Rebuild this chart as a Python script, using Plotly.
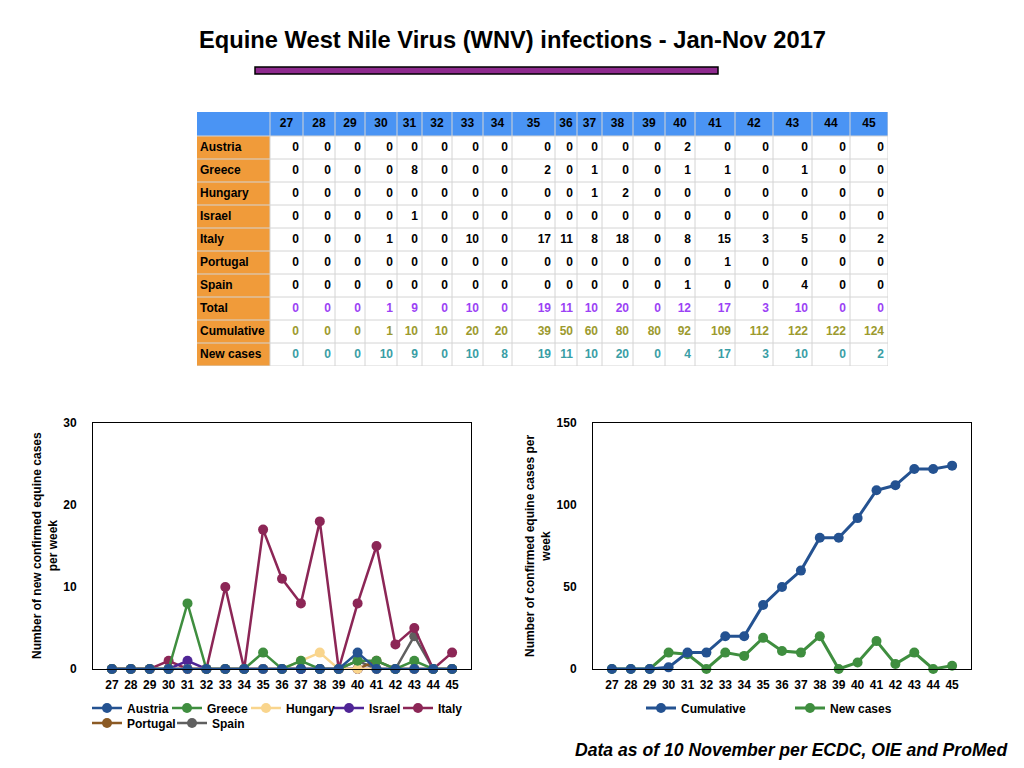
import plotly.graph_objects as go

# weekly equine WNV cases, weeks 27-45 of 2017
weeks = list(range(27, 46))
austria = [0, 0, 0, 0, 0, 0, 0, 0, 0, 0, 0, 0, 0, 2, 0, 0, 0, 0, 0]
greece = [0, 0, 0, 0, 8, 0, 0, 0, 2, 0, 1, 0, 0, 1, 1, 0, 1, 0, 0]
hungary = [0, 0, 0, 0, 0, 0, 0, 0, 0, 0, 1, 2, 0, 0, 0, 0, 0, 0, 0]
israel = [0, 0, 0, 0, 1, 0, 0, 0, 0, 0, 0, 0, 0, 0, 0, 0, 0, 0, 0]
italy = [0, 0, 0, 1, 0, 0, 10, 0, 17, 11, 8, 18, 0, 8, 15, 3, 5, 0, 2]
portugal = [0, 0, 0, 0, 0, 0, 0, 0, 0, 0, 0, 0, 0, 0, 1, 0, 0, 0, 0]
spain = [0, 0, 0, 0, 0, 0, 0, 0, 0, 0, 0, 0, 0, 1, 0, 0, 4, 0, 0]
total = [0, 0, 0, 1, 9, 0, 10, 0, 19, 11, 10, 20, 0, 12, 17, 3, 10, 0, 0]
cumulative = [0, 0, 0, 1, 10, 10, 20, 20, 39, 50, 60, 80, 80, 92, 109, 112, 122, 122, 124]
new_cases = [0, 0, 0, 10, 9, 0, 10, 8, 19, 11, 10, 20, 0, 4, 17, 3, 10, 0, 2]

countries = ["Austria", "Greece", "Hungary", "Israel", "Italy", "Portugal", "Spain"]
country_vals = [austria, greece, hungary, israel, italy, portugal, spain]
country_cols = ["#245291", "#3f8e3f", "#f9d58d", "#4f2596", "#8c2656", "#8b5a24", "#5f5f5f"]
row_labels = countries + ["Total", "Cumulative", "New cases"]
row_vals = country_vals + [total, cumulative, new_cases]
row_cols = ["black"] * 7 + ["#9b42f5", "#9c9a2e", "#3a9ea5"]

W, H = 1024, 768
FONT = "Liberation Sans, Arial, Helvetica, sans-serif"


def px(x):
    return x / W


def py(y):
    return 1 - y / H


fig = go.Figure()

# ---- table, drawn as a heatmap (cell fills) + text on its own axes ----
colw = [73, 33, 32, 30, 32, 25, 30, 31, 29, 43, 22, 25, 31, 32, 30, 40, 38, 39, 38, 38]
head_h, row_h = 24, 23
xedges = [0]
for w in colw:
    xedges.append(xedges[-1] + w)
yedges = [0, head_h] + [head_h + row_h * (i + 1) for i in range(len(row_labels))]
xmid = [(xedges[i] + xedges[i + 1]) / 2 for i in range(len(colw))]
ymid = [(yedges[i] + yedges[i + 1]) / 2 for i in range(len(yedges) - 1)]

# 2 = header blue, 1 = label orange, 0 = white
zfill = [[2] * len(colw)] + [[1] + [0] * len(weeks) for _ in row_labels]
fig.add_trace(go.Heatmap(
    x=xedges, y=yedges, z=zfill, zmin=0, zmax=2, showscale=False, hoverinfo="skip",
    colorscale=[[0, "white"], [0.5, "#f09b3a"], [1, "#4a94f4"]],
    xaxis="x3", yaxis="y3"))

fig.add_trace(go.Scatter(
    x=xmid[1:], y=[ymid[0]] * len(weeks), text=["<b>%d</b>" % w for w in weeks],
    mode="text", textposition="middle center", showlegend=False, hoverinfo="skip",
    textfont=dict(family=FONT, size=12, color="black"), xaxis="x3", yaxis="y3"))
fig.add_trace(go.Scatter(
    x=[xedges[0] + 3] * len(row_labels), y=ymid[1:], text=["<b>%s</b>" % r for r in row_labels],
    mode="text", textposition="middle right", showlegend=False, hoverinfo="skip",
    textfont=dict(family=FONT, size=12, color="black"), xaxis="x3", yaxis="y3"))

tx, ty, tt, tc = [], [], [], []
for r, vals in enumerate(row_vals):
    for c, v in enumerate(vals):
        tx.append(xedges[c + 2] - 4)
        ty.append(ymid[r + 1])
        tt.append("<b>%d</b>" % v)
        tc.append(row_cols[r])
fig.add_trace(go.Scatter(
    x=tx, y=ty, text=tt, mode="text", textposition="middle left", showlegend=False,
    hoverinfo="skip", textfont=dict(family=FONT, size=12, color=tc), xaxis="x3", yaxis="y3"))

# cell borders
grid = dict(color="#d4d4d4", width=1)
for xe in xedges[1:]:
    fig.add_shape(type="line", xref="x3", yref="y3", x0=xe, x1=xe, y0=0, y1=yedges[-1],
                  line=grid, layer="above")
for ye in yedges[1:]:
    fig.add_shape(type="line", xref="x3", yref="y3", x0=0, x1=xedges[-1], y0=ye, y1=ye,
                  line=grid, layer="above")

# ---- left chart: weekly cases per country ----
# legend marker centres (px) - one small legend per country so they line up like the original
leg_pos = {"Austria": (107, 708), "Greece": (187, 708), "Hungary": (266, 708),
           "Israel": (349, 708), "Italy": (418, 708), "Portugal": (107, 723), "Spain": (192, 723)}
for k in reversed(range(len(countries))):
    name = countries[k]
    lg = "legend" if k == 0 else "legend%d" % (k + 1)
    fig.add_trace(go.Scatter(
        x=weeks, y=country_vals[k], name=name, mode="lines+markers",
        line=dict(color=country_cols[k], width=2.5), marker=dict(size=10, color=country_cols[k]),
        cliponaxis=False, legend=lg, xaxis="x", yaxis="y"))
    mx, my = leg_pos[name]
    fig.update_layout({lg: dict(x=px(mx - 20), y=py(my), xanchor="left", yanchor="middle",
                                orientation="h", itemwidth=30, bgcolor="rgba(0,0,0,0)",
                                font=dict(family=FONT, size=12, color="black", weight="bold"))})

# ---- right chart: cumulative and new cases ----
fig.add_trace(go.Scatter(x=weeks, y=new_cases, name="New cases", mode="lines+markers",
                         line=dict(color="#3f8e3f", width=3), marker=dict(size=10, color="#3f8e3f"),
                         cliponaxis=False, legend="legend8", xaxis="x2", yaxis="y2", legendrank=2))
fig.add_trace(go.Scatter(x=weeks, y=cumulative, name="Cumulative", mode="lines+markers",
                         line=dict(color="#245291", width=3), marker=dict(size=10, color="#245291"),
                         cliponaxis=False, legend="legend8", xaxis="x2", yaxis="y2", legendrank=1))

axis_common = dict(showgrid=False, zeroline=False, showline=True, linecolor="black", linewidth=1,
                   mirror=True, ticks="", tickfont=dict(family=FONT, size=12, color="black", weight="bold"))
fig.update_layout(
    width=W, height=H,
    margin=dict(l=0, r=0, t=0, b=0, autoexpand=False),
    paper_bgcolor="white", plot_bgcolor="white",
    font=dict(family=FONT, color="black"),
    showlegend=True,
    xaxis=dict(domain=[px(93), px(471)], range=[26, 46], tickvals=weeks, ticklabelstandoff=5,
               anchor="y", **axis_common),
    yaxis=dict(domain=[py(669), py(423)], range=[0, 30], tickvals=[0, 10, 20, 30],
               ticklabelstandoff=13, anchor="x", **axis_common),
    xaxis2=dict(domain=[px(593), px(971)], range=[26, 46], tickvals=weeks, ticklabelstandoff=5,
                anchor="y2", **axis_common),
    yaxis2=dict(domain=[py(669), py(423)], range=[0, 150], tickvals=[0, 50, 100, 150],
                ticklabelstandoff=13, anchor="x2", **axis_common),
    xaxis3=dict(domain=[px(197), px(888)], range=[0, xedges[-1]], anchor="y3", visible=False,
                fixedrange=True),
    yaxis3=dict(domain=[py(112 + yedges[-1]), py(112)], range=[yedges[-1], 0], anchor="x3",
                visible=False, fixedrange=True),
    legend8=dict(x=px(641), y=py(708), xanchor="left", yanchor="middle", orientation="h",
                 itemwidth=30, entrywidth=104, bgcolor="rgba(0,0,0,0)", traceorder="normal",
                 font=dict(family=FONT, size=12, color="black", weight="bold")),
)

fig.add_annotation(text="<b>Equine West Nile Virus (WNV) infections - Jan-Nov 2017</b>",
                   x=px(512), y=py(40), xref="paper", yref="paper", xanchor="center",
                   yanchor="middle", showarrow=False, font=dict(family=FONT, size=23.7, color="black"))
fig.add_shape(type="rect", xref="paper", yref="paper",
              x0=px(255), x1=px(718), y0=py(74), y1=py(67),
              fillcolor="#8e2a8e", line=dict(color="black", width=1.5))
fig.add_annotation(text="<b>Number of new confirmed equine cases<br>per week</b>",
                   x=px(45), y=py(546), xref="paper", yref="paper", xanchor="center",
                   yanchor="middle", showarrow=False, textangle=-90,
                   font=dict(family=FONT, size=12, color="black"))
fig.add_annotation(text="<b>Number of confirmed equine cases per<br>week</b>",
                   x=px(538), y=py(546), xref="paper", yref="paper", xanchor="center",
                   yanchor="middle", showarrow=False, textangle=-90,
                   font=dict(family=FONT, size=12, color="black"))
fig.add_annotation(text="<b><i>Data as of 10 November per ECDC, OIE and ProMed</i></b>",
                   x=px(1010), y=py(750), xref="paper", yref="paper", xanchor="right",
                   yanchor="middle", showarrow=False, font=dict(family=FONT, size=17.6, color="black"))

# drop the default 8px page margin so the figure sits at the window's top-left corner
fig.write_html("out.html", config={"displayModeBar": False},
               post_script="document.body.style.margin = '0';")
